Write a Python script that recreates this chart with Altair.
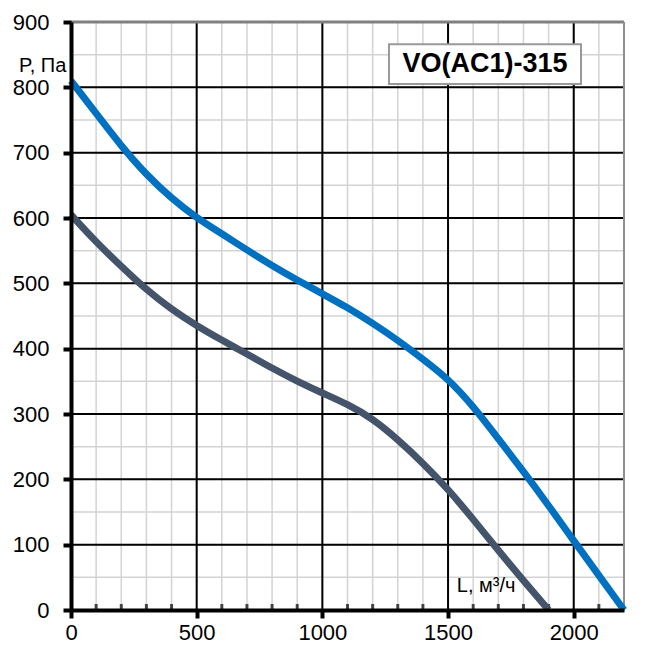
import altair as alt
import pandas as pd

# ---- data ----
flow_blue = [0, 100, 200, 300, 400, 500, 600, 700, 800, 900, 1000, 1100,
             1200, 1300, 1400, 1500, 1600, 1700, 1800, 1900, 2000, 2100, 2200]
p_blue = [810, 760, 710, 666, 630, 600, 576, 551, 527, 505, 484, 463,
          439, 413, 384, 354, 312, 262, 212, 160, 106, 53, 0]

flow_dark = [0, 100, 200, 300, 400, 500, 600, 700, 800, 900, 1000, 1100,
             1200, 1300, 1400, 1500, 1600, 1700, 1800, 1900]
p_dark = [605, 563, 526, 490, 460, 435, 413, 392, 370, 350, 332, 315,
          293, 261, 225, 185, 139, 91, 45, 0]

x_labels = [0, 500, 1000, 1500, 2000]
y_labels = [0, 100, 200, 300, 400, 500, 600, 700, 800, 900]
x_minor = [v for v in range(100, 2200, 100) if v % 500 != 0]
x_grid = list(range(100, 2200, 100))
y_grid = list(range(50, 900, 50))
x_major = [500, 1000, 1500, 2000]
y_major = [100, 200, 300, 400, 500, 600, 700, 800]

title_text = "VO(AC1)-315"
y_title = "P, Па"
x_title = "L, м³/ч"

FONT = "Liberation Sans"

xs = alt.Scale(domain=[0, 2200], nice=False, zero=False)
ys = alt.Scale(domain=[0, 900], nice=False, zero=False)

x_axis = alt.Axis(values=x_labels, title=None, grid=False, domainColor="black",
                  domainWidth=4, tickColor="black", tickWidth=4, tickSize=8,
                  labelFontSize=22, labelFont=FONT, labelColor="black",
                  labelPadding=4, format="d", labelFlush=False, zindex=1)
y_axis = alt.Axis(values=y_labels, title=None, grid=False, domainColor="black",
                  domainWidth=4, tickColor="black", tickWidth=4, tickSize=8,
                  labelFontSize=22, labelFont=FONT, labelColor="black",
                  labelPadding=14, format="d", zindex=1)


def X(field):
    return alt.X(field, type="quantitative", scale=xs, axis=x_axis)


def Y(field):
    return alt.Y(field, type="quantitative", scale=ys, axis=y_axis)


df_xmajor = pd.DataFrame({"x": x_major})
df_ymajor = pd.DataFrame({"y": y_major})
df_xall = pd.DataFrame({"x": x_grid})
df_yall = pd.DataFrame({"y": y_grid})

grid_x_minor = alt.Chart(df_xall).mark_rule(color="#d3d3d3", strokeWidth=1.5).encode(x=X("x"))
grid_y_minor = alt.Chart(df_yall).mark_rule(color="#d3d3d3", strokeWidth=1.5).encode(y=Y("y"))
grid_x_major = alt.Chart(df_xmajor).mark_rule(color="black", strokeWidth=2).encode(x=X("x"))
grid_y_major = alt.Chart(df_ymajor).mark_rule(color="black", strokeWidth=2).encode(y=Y("y"))

top_border = alt.Chart(pd.DataFrame({"y": [900]})).mark_rule(
    color="#808080", strokeWidth=3).encode(y=Y("y"))
right_border = alt.Chart(pd.DataFrame({"x": [2200]})).mark_rule(
    color="#909090", strokeWidth=2).encode(x=X("x"))

minor_ticks = alt.Chart(pd.DataFrame({"x": x_minor, "y": [0] * len(x_minor)})).mark_tick(
    orient="vertical", color="black", size=8, thickness=3, yOffset=-2).encode(
    x=X("x"), y=Y("y"))

df_blue = pd.DataFrame({"L": flow_blue, "P": p_blue})
df_dark = pd.DataFrame({"L": flow_dark, "P": p_dark})

line_dark = alt.Chart(df_dark).mark_line(
    color="#44546A", strokeWidth=7, interpolate="basis").encode(x=X("L"), y=Y("P"))
line_blue = alt.Chart(df_blue).mark_line(
    color="#0070C0", strokeWidth=7, interpolate="basis").encode(x=X("L"), y=Y("P"))

box = alt.Chart(pd.DataFrame({"x": [1265], "x2": [2029], "y": [805], "y2": [866]})).mark_rect(
    fill="white", stroke="#999999", strokeWidth=2).encode(
    x=X("x"), x2="x2", y=Y("y"), y2="y2")
box_text = alt.Chart(pd.DataFrame({"x": [1647], "y": [836], "t": [title_text]})).mark_text(
    font=FONT, fontSize=27, fontWeight="bold", color="black", align="center",
    baseline="middle").encode(x=X("x"), y=Y("y"), text="t")

ylab = alt.Chart(pd.DataFrame({"x": [-207], "y": [823], "t": [y_title]})).mark_text(
    font=FONT, fontSize=20, color="black", align="left", baseline="alphabetic").encode(
    x=X("x"), y=Y("y"), text="t")
xlab = alt.Chart(pd.DataFrame({"x": [1535], "y": [27], "t": [x_title]})).mark_text(
    font=FONT, fontSize=20, color="black", align="left", baseline="alphabetic").encode(
    x=X("x"), y=Y("y"), text="t")

chart = alt.layer(
    grid_x_minor, grid_y_minor, grid_x_major, grid_y_major, top_border, right_border,
    minor_ticks, line_dark, line_blue, box, box_text, ylab, xlab
).properties(
    width=553, height=588,
    autosize=alt.AutoSizeParams(type="none"),
    padding={"left": 71, "top": 22, "right": 40, "bottom": 40},
).configure_view(stroke=None).configure(background="white")

chart.save("out.html", embed_options={"renderer": "svg", "actions": False})
